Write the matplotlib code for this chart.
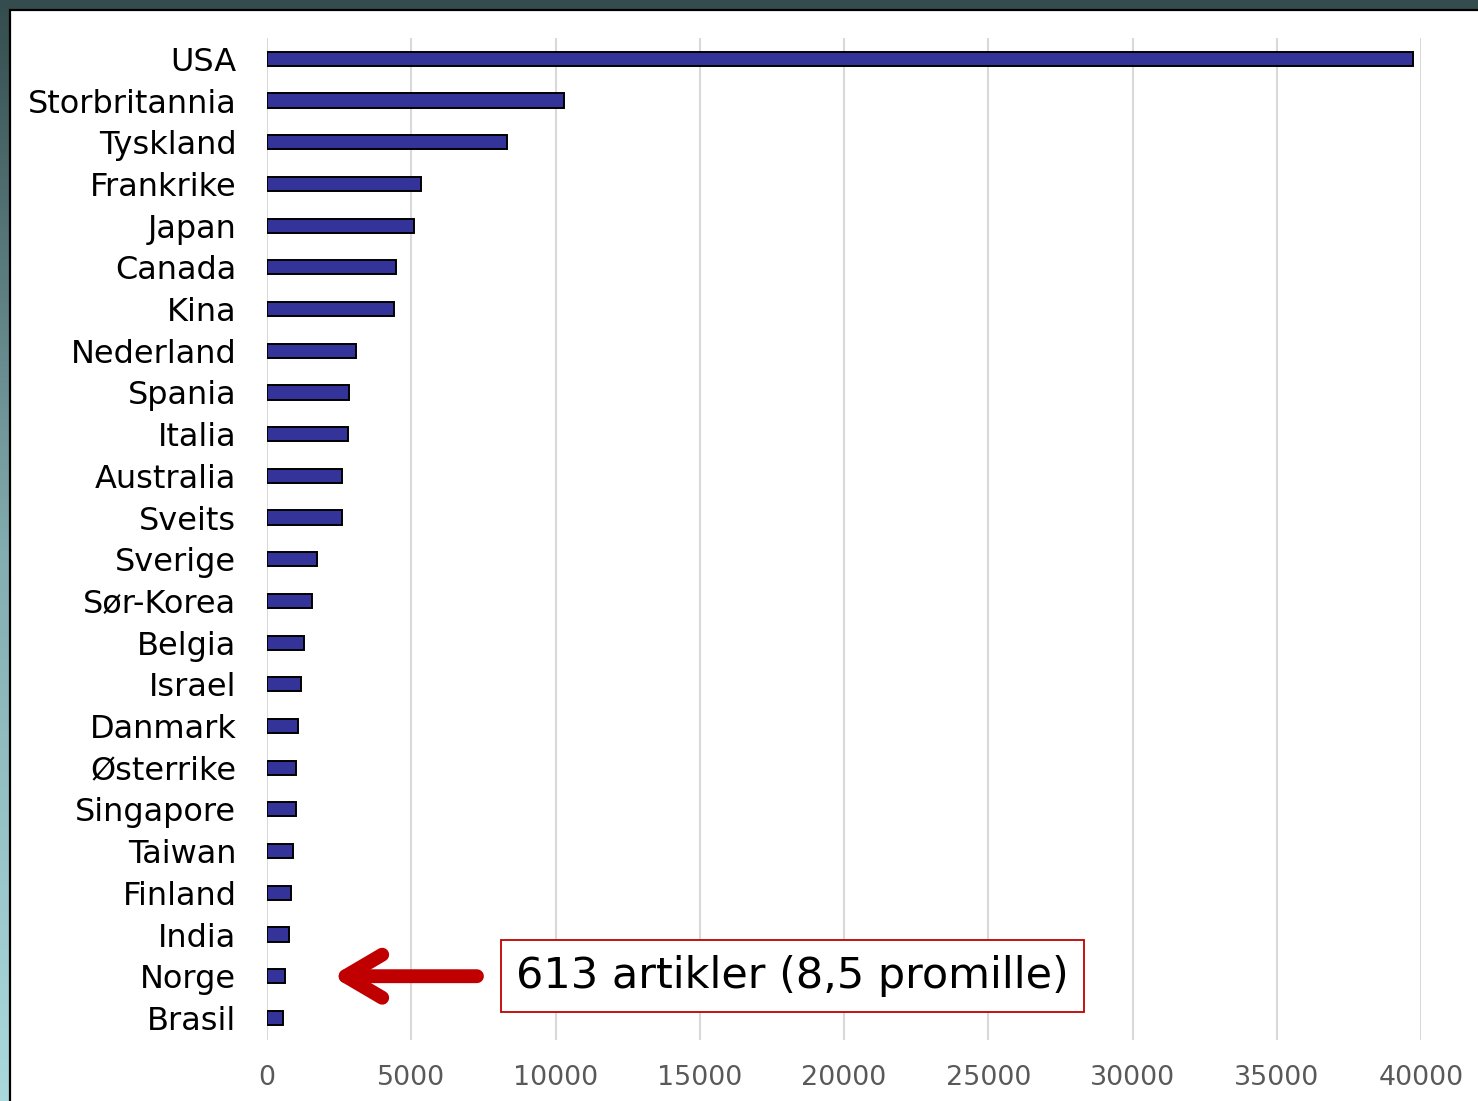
import numpy as np
import matplotlib.pyplot as plt
from matplotlib.patches import Rectangle
from matplotlib.colors import LinearSegmentedColormap

land = ['USA', 'Storbritannia', 'Tyskland', 'Frankrike', 'Japan', 'Canada',
        'Kina', 'Nederland', 'Spania', 'Italia', 'Australia', 'Sveits',
        'Sverige', 'Sør-Korea', 'Belgia', 'Israel', 'Danmark', 'Østerrike',
        'Singapore', 'Taiwan', 'Finland', 'India', 'Norge', 'Brasil']
artikler = [39720, 10300, 8330, 5340, 5100, 4480,
            4410, 3090, 2840, 2810, 2600, 2590,
            1740, 1560, 1280, 1180, 1080, 1010,
            1000, 900, 830, 760, 613, 555]
xticks = [0, 5000, 10000, 15000, 20000, 25000, 30000, 35000, 40000]
merknad = '613 artikler (8,5 promille)'

W, H = 1478, 1101
fig = plt.figure(figsize=(W / 100, H / 100), dpi=100)

# dark teal frame fading to light cyan on the left side
bg = fig.add_axes([0, 0, 1, 1], zorder=-10)
cmap = LinearSegmentedColormap.from_list('ramme', ['#344c4e', '#83adb0', '#aad9dd'])
grad = np.linspace(0, 1, 256).reshape(-1, 1)
bg.imshow(grad, aspect='auto', cmap=cmap, extent=[0, 1, 0, 1], origin='upper')
bg.add_patch(Rectangle((10 / W, -0.01), 1, 1 - 10 / H + 0.01, facecolor='white',
                       edgecolor='black', linewidth=1.6, transform=bg.transAxes))
bg.set_xlim(0, 1)
bg.set_ylim(0, 1)
bg.axis('off')

ax = fig.add_axes([267 / W, 1 - 1040 / H, (1421 - 267) / W, (1040 - 38) / H])
ax.set_facecolor('none')
y = np.arange(len(land))
ax.barh(y, artikler, height=0.34, color='#333399', edgecolor='black',
        linewidth=1.4, zorder=3)

ax.set_xlim(0, 40000)
ax.set_ylim(len(land) - 0.47, -0.5)
ax.set_yticks(y)
ax.set_yticklabels(land, fontsize=23, color='black')
ax.set_xticks(xticks)
ax.set_xticklabels([str(t) for t in xticks], fontsize=19.4, color='#595959')
ax.tick_params(axis='y', length=0, pad=22)
ax.tick_params(axis='x', length=0, pad=18)
ax.grid(axis='x', color='#d9d9d9', linewidth=1.5, zorder=0)
for s in ax.spines.values():
    s.set_visible(False)

i = land.index('Norge')
ax.annotate(merknad, xy=(2250, i), xytext=(8640, i), xycoords='data',
            textcoords='data', ha='left', va='center', fontsize=31,
            color='black',
            bbox=dict(boxstyle='square,pad=0.35', facecolor='white',
                      edgecolor='#c00000', linewidth=1.3),
            arrowprops=dict(arrowstyle='->,head_length=0.85,head_width=0.5',
                            color='#c00000', linewidth=10, shrinkA=17,
                            shrinkB=0, capstyle='round', joinstyle='round'))

fig.savefig('out.png', dpi=100)
